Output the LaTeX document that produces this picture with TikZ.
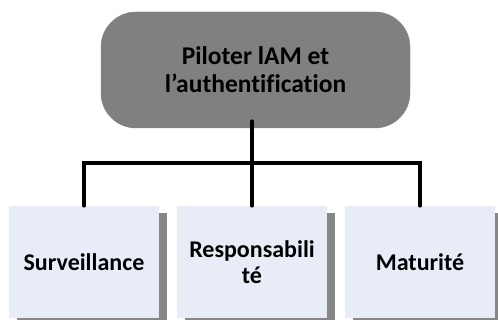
\documentclass[tikz,border=0pt]{standalone}
\usepackage{fontspec}
\setmainfont{Carlito}[Ligatures=CommonOff]
\usetikzlibrary{shadows}
\definecolor{headgray}{HTML}{808080}
\definecolor{boxblue}{HTML}{E7ECF7}
\definecolor{shadowgray}{HTML}{878787}
\tikzset{
  headbox/.style={fill=headgray, draw=headgray, rounded corners=35pt,
    minimum width=309pt, minimum height=116pt, align=center,
    font=\fontsize{25.5}{28}\selectfont\bfseries, inner sep=0pt},
  leafbox/.style={fill=boxblue, draw=none, minimum width=150pt,
    minimum height=112pt, text width=150pt, align=center, inner sep=0pt,
    font=\fontsize{24}{26}\selectfont\bfseries,
    copy shadow={fill=shadowgray, draw=none, shadow xshift=8pt, shadow yshift=-7pt}},
  conn/.style={line width=3.5pt, line cap=round, line join=miter}
}
\begin{document}
\begin{tikzpicture}[x=1pt, y=-1pt]
  \useasboundingbox (0,0) rectangle (498,320);
  % top-level box
  \node[headbox] (top) at (255.5,70) {Piloter lAM et\\l’authentification};
  % three child boxes
  \node[leafbox] (b1) at (84,262) {Surveillance};
  \node[leafbox] (b2) at (252,262) {Responsabili\\té};
  \node[leafbox] (b3) at (420,262) {Maturité};
  % tree connectors
  \coordinate (bar) at (252,163);
  \draw[conn] ([yshift=7pt]top.south -| b2.north) -- (b2.north);
  \draw[conn] (b1.north) |- (bar) -| (b3.north);
\end{tikzpicture}
\end{document}
